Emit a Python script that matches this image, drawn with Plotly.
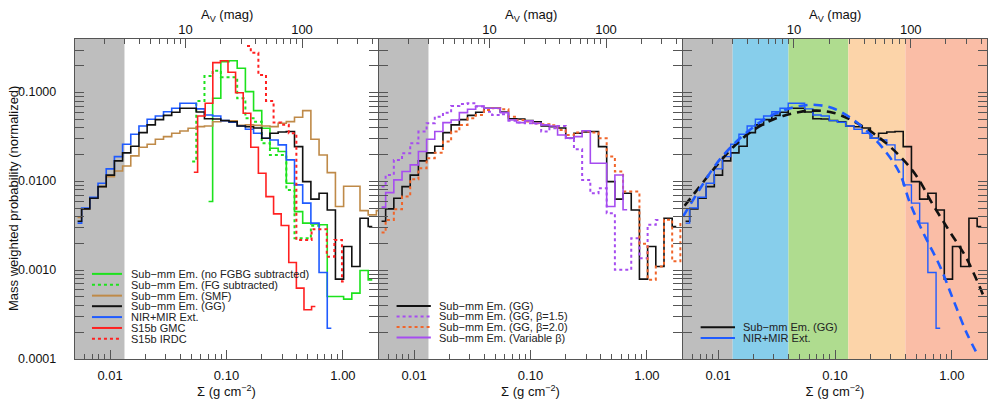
import numpy as np
import plotly.graph_objects as go

# histogram bin centres (g cm^-2) used by the sub-mm emission and extinction maps
SIGMA_BINS = [0.00526, 0.00618, 0.00727, 0.00855, 0.01005, 0.01182, 0.01389,
              0.01633, 0.01920, 0.02258, 0.02655, 0.03121, 0.03670, 0.04314,
              0.05072, 0.05964, 0.07012, 0.08244, 0.09692, 0.1139, 0.1340,
              0.1575, 0.1852, 0.2177, 0.2560, 0.3010, 0.3538, 0.4160, 0.4891,
              0.5751, 0.6761, 0.7950, 0.9346, 1.0988, 1.292, 1.519, 1.786, 2.100]

# mass weighted probability per bin (first value sits in SIGMA_BINS[start])
GG = [0.00355, 0.00490, 0.00646, 0.00871, 0.01175, 0.01698, 0.02089, 0.02483,
      0.03532, 0.04315, 0.04955, 0.05521, 0.05998, 0.06637, 0.06637, 0.06026,
      0.05070, 0.05035, 0.04842, 0.04677, 0.04198, 0.04121, 0.03981, 0.03055,
      0.03475, 0.03589, 0.03631, 0.02460, 0.00993, 0.00630, 0.00735, 0.00476,
      0.000793, 0.001845, 0.001099, 0.003846, 0.003097]
GG_START = 0
NIR_MIR = [0.00338, 0.00501, 0.00662, 0.00951, 0.01380, 0.01897, 0.02612,
           0.03388, 0.04198, 0.04989, 0.05445, 0.06081, 0.06637, 0.07551,
           0.07551, 0.06531, 0.05585, 0.05445, 0.04819, 0.04624, 0.04198,
           0.03855, 0.03475, 0.03055, 0.02924, 0.02570, 0.01742, 0.00912,
           0.00568, 0.00338, 0.000942, 0.000222]
NIR_MIR_START = 0
SMF = [0.00391, 0.00490, 0.00646, 0.00871, 0.01130, 0.01309, 0.01489, 0.01932,
       0.02421, 0.02612, 0.02979, 0.03184, 0.03475, 0.03690, 0.03954, 0.04130,
       0.04188, 0.04677, 0.04786, 0.04786, 0.04266, 0.04315, 0.04266, 0.04198,
       0.04130, 0.04498, 0.04699, 0.05260, 0.06252, 0.02972, 0.01982, 0.01253,
       0.00520, 0.00881, 0.00881, 0.00468, 0.00419, 0.00468]
SMF_START = 0
NO_FGBG = [0.00592, 0.0861, 0.2223, 0.2280, 0.1871, 0.1023, 0.06252, 0.03954,
           0.02355, 0.02163, 0.00951, 0.00456, 0.00338, 0.00331, 0.00324,
           0.000505, 0.000505, 0.000472, 0.000551, 0.000991, 0.000778]
NO_FGBG_START = 16
FG_SUB = [0.01667, 0.0804, 0.1535, 0.1762, 0.1483, 0.1483, 0.0861, 0.0513,
          0.0468, 0.0268, 0.0198, 0.0198, 0.0080, 0.00229, 0.00229, 0.00316,
          0.00316]
FG_SUB_START = 14
BETA_15 = [0.00873, 0.01180, 0.01742, 0.02070, 0.02679, 0.03631, 0.04508,
           0.05346, 0.05929, 0.07047, 0.07430, 0.07551, 0.06934, 0.06081,
           0.05585, 0.05689, 0.04819, 0.04581, 0.04508, 0.04446, 0.03631,
           0.03954, 0.04198, 0.03055, 0.02296, 0.01038, 0.00735, 0.00836,
           0.00437, 0.001009, 0.001009, 0.00229, 0.001365, 0.00324, 0.00368]
BETA_15_START = 0
BETA_20 = [0.00265, 0.00368, 0.00485, 0.00673, 0.01057, 0.01403, 0.01820,
           0.02104, 0.02799, 0.03631, 0.04315, 0.05129, 0.05585, 0.06353,
           0.06637, 0.06457, 0.05346, 0.04898, 0.04721, 0.04508, 0.04385,
           0.04266, 0.03784, 0.03327, 0.03548, 0.03631, 0.03548, 0.03055,
           0.01897, 0.01288, 0.00766, 0.00766, 0.00198, 0.00078, 0.00110,
           0.00370, 0.00126, 0.00330]
BETA_20_START = 0
VAR_BETA = [0.00512, 0.00746, 0.01038, 0.01288, 0.01531, 0.02163, 0.02972,
            0.03631, 0.04581, 0.04909, 0.05929, 0.06471, 0.07047, 0.06637,
            0.06637, 0.05929, 0.04909, 0.04581, 0.04786, 0.04508, 0.04315,
            0.04198, 0.03327, 0.03055, 0.03184, 0.03715, 0.01600, 0.01600,
            0.00520, 0.01180, 0.00479]
VAR_BETA_START = 0

# S15b histograms use their own binning
S15B_BINS = [0.05239, 0.06088, 0.07075, 0.08222, 0.09556, 0.1110, 0.1290,
             0.1500, 0.1742, 0.2025, 0.2353, 0.2735, 0.3178, 0.3693, 0.4292,
             0.4989, 0.5797, 0.6737, 0.7829, 0.9097, 1.0573]
S15B_GMC = [0.01265, 0.05445, 0.07551, 0.2168, 0.2280, 0.1687, 0.0995, 0.0583,
            0.02415, 0.01233, 0.00673, 0.00430, 0.00318, 0.00122, 0.000627,
            0.000358, 0.000390]
S15B_GMC_START = 0
S15B_IRDC = [0.3334, 0.2805, 0.1574, 0.0804, 0.0458, 0.0432, 0.0348, 0.00219,
             0.00219, 0.00289, 0.00289, 0.00142, 0.00219, 0.000745]
S15B_IRDC_START = 7

# log-normal fits
FIT_GG_SIGMA = [0.00516, 0.00695, 0.00964, 0.01340, 0.01862, 0.02582, 0.03589,
                0.04989, 0.06934, 0.09616, 0.1337, 0.1858, 0.2576, 0.3581,
                0.4977, 0.6902, 0.9594, 1.334, 1.928]
FIT_GG_P = [0.00530, 0.00873, 0.01489, 0.02421, 0.03532, 0.04581, 0.05445,
            0.06039, 0.06252, 0.05929, 0.04989, 0.03917, 0.02871, 0.01932,
            0.01151, 0.00543, 0.00272, 0.001365, 0.000463]
FIT_NIR_SIGMA = [0.00500, 0.00695, 0.00964, 0.01340, 0.01862, 0.02582, 0.03589,
                 0.04989, 0.06934, 0.09616, 0.1337, 0.1858, 0.2576, 0.3581,
                 0.4385, 0.5715, 0.7925, 1.030, 1.343, 1.690]
FIT_NIR_P = [0.00401, 0.00815, 0.01570, 0.02570, 0.03784, 0.05129, 0.06252,
             0.07047, 0.07244, 0.06637, 0.05260, 0.03724, 0.02355, 0.01233,
             0.00568, 0.00261, 0.001099, 0.000463, 0.000195, 0.000107]

# shaded Sigma ranges (g cm^-2)
GREY_LIMIT = 0.0133
BAND_EDGES = [0.0133, 0.04, 0.13, 0.4, 3.0]
BAND_COLORS = ["#87ceeb", "#afdc8f", "#fcd4a9", "#fabda6"]

# y tick labels of the left panel
P_TICKS = [1e-4, 1e-3, 1e-2, 1e-1]
P_TICK_TEXT = ["0.0001", "0.0010", "0.0100", "0.1000"]

SIGMA_PER_AV = 0.00445
X_MIN, X_MAX = 0.005, 2.0
Y_MIN, Y_MAX = 1e-4, 0.4

GREEN = "#1de21d"
BROWN = "#bf8a48"
BLACK = "#111111"
BLUE = "#1f5bff"
RED = "#ff2020"
PURPLE = "#a64cf0"
ORANGE = "#f0652a"
FONT = "Liberation Sans, Arial, sans-serif"

fig = go.Figure()
PANELS = [("x", "y"), ("x2", "y2"), ("x3", "y3")]


def add_hist(panel, bins, values, start, color, dash="solid", width=1.6):
    xa, ya = PANELS[panel]
    fig.add_trace(go.Scatter(
        x=bins[start:start + len(values)], y=values, mode="lines",
        line=dict(color=color, dash=dash, width=width, shape="hvh"),
        xaxis=xa, yaxis=ya, showlegend=False, hoverinfo="skip"))


# panel 1
add_hist(0, SIGMA_BINS, NO_FGBG, NO_FGBG_START, GREEN)
add_hist(0, SIGMA_BINS, FG_SUB, FG_SUB_START, GREEN, "dot", 2)
add_hist(0, SIGMA_BINS, SMF, SMF_START, BROWN)
add_hist(0, SIGMA_BINS, NIR_MIR, NIR_MIR_START, BLUE)
add_hist(0, SIGMA_BINS, GG, GG_START, BLACK)
add_hist(0, S15B_BINS, S15B_GMC, S15B_GMC_START, RED)
add_hist(0, S15B_BINS, S15B_IRDC, S15B_IRDC_START, RED, "dot", 2)
# panel 2
add_hist(1, SIGMA_BINS, GG, GG_START, BLACK)
add_hist(1, SIGMA_BINS, BETA_15, BETA_15_START, PURPLE, "dot", 2)
add_hist(1, SIGMA_BINS, BETA_20, BETA_20_START, ORANGE, "dot", 2)
add_hist(1, SIGMA_BINS, VAR_BETA, VAR_BETA_START, PURPLE)
# panel 3
add_hist(2, SIGMA_BINS, GG, GG_START, BLACK)
add_hist(2, SIGMA_BINS, NIR_MIR, NIR_MIR_START, BLUE, width=1.4)
for sx, sy, col in [(FIT_GG_SIGMA, FIT_GG_P, BLACK), (FIT_NIR_SIGMA, FIT_NIR_P, BLUE)]:
    fig.add_trace(go.Scatter(
        x=sx, y=sy, mode="lines", xaxis="x3", yaxis="y3",
        line=dict(color=col, width=2.6, dash="9px,6px", shape="spline"),
        showlegend=False, hoverinfo="skip"))

# empty traces so that the A_V axes get drawn
for k in range(3):
    fig.add_trace(go.Scatter(x=[], y=[], xaxis="x%d" % (k + 4), yaxis=PANELS[k][1],
                             showlegend=False))

# shaded regions
shapes = []
for k in range(3):
    xr = PANELS[k][0]
    yr = PANELS[k][1] + " domain"
    shapes.append(dict(type="rect", xref=xr, yref=yr, x0=0.001, x1=GREY_LIMIT,
                       y0=0, y1=1, fillcolor="#bebebe", line_width=0, layer="below"))
for x0, x1, c in zip(BAND_EDGES[:-1], BAND_EDGES[1:], BAND_COLORS):
    shapes.append(dict(type="rect", xref="x3", yref="y3 domain", x0=x0, x1=x1,
                       y0=0, y1=1, fillcolor=c, line_width=0, layer="below"))

# legends drawn by hand (IDL style, tight rows)
LEGENDS = [
    (0, 0.056, 0.155, 0.182, [0.266, 0.232, 0.198, 0.165, 0.131, 0.097, 0.063],
     [("Sub−mm Em. (no FGBG subtracted)", GREEN, "solid"),
      ("Sub−mm Em. (FG subtracted)", GREEN, "dot"),
      ("Sub−mm Em. (SMF)", BROWN, "solid"),
      ("Sub−mm Em. (GG)", BLACK, "solid"),
      ("NIR+MIR Ext.", BLUE, "solid"),
      ("S15b GMC", RED, "solid"),
      ("S15b IRDC", RED, "dot")]),
    (1, 0.058, 0.171, 0.196, [0.166, 0.133, 0.100, 0.067],
     [("Sub−mm Em. (GG)", BLACK, "solid"),
      ("Sub−mm Em. (GG, β=1.5)", PURPLE, "dot"),
      ("Sub−mm Em. (GG, β=2.0)", ORANGE, "dot"),
      ("Sub−mm Em. (Variable β)", PURPLE, "solid")]),
    (2, 0.058, 0.171, 0.193, [0.099, 0.066],
     [("Sub−mm Em. (GG)", BLACK, "solid"),
      ("NIR+MIR Ext.", BLUE, "solid")]),
]
annotations = []
for k, lx0, lx1, tx, rows, items in LEGENDS:
    xr = PANELS[k][0] + " domain"
    yr = PANELS[k][1] + " domain"
    for yy, (label, col, dash) in zip(rows, items):
        shapes.append(dict(type="line", xref=xr, yref=yr, x0=lx0, x1=lx1, y0=yy, y1=yy,
                           line=dict(color=col, width=2, dash=dash)))
        annotations.append(dict(xref=xr, yref=yr, x=tx, y=yy, text=label, showarrow=False,
                                xanchor="left", yanchor="middle", borderpad=0,
                                font=dict(size=11, color="#222222", family=FONT)))
    # A_V axis title above each panel
    annotations.append(dict(xref=xr, yref="paper", x=0.5, y=1, yshift=24,
                            text="A<sub>V</sub> (mag)", showarrow=False,
                            xanchor="center", yanchor="middle",
                            font=dict(size=13, color="#111111", family=FONT)))

# left axis tick labels and title, placed like the IDL original
for val, txt in zip(P_TICKS, P_TICK_TEXT):
    annotations.append(dict(xref="paper", yref="y", x=0, y=np.log10(val), xshift=-17,
                            text=txt, showarrow=False, xanchor="right", yanchor="middle",
                            font=dict(size=12.5, color="#111111", family=FONT)))
annotations.append(dict(xref="paper", yref="paper", x=0, y=0.5, xshift=-62,
                        text="Mass weighted probability (normalized)", textangle=-90,
                        showarrow=False, xanchor="center", yanchor="middle",
                        font=dict(size=13, color="#111111", family=FONT)))

minor_sigma = [m * 10.0 ** e for e in range(-3, 1) for m in range(2, 10)]
minor_av = [m * 10.0 ** e for e in range(0, 3) for m in range(2, 10)]
minor_p = [m * 10.0 ** e for e in range(-4, 0) for m in range(2, 10)]

W_PLOT = 912.0
domains = [[0, 303 / W_PLOT], [304 / W_PLOT, 607 / W_PLOT], [608 / W_PLOT, 1]]
layout = dict(
    width=997, height=399,
    margin=dict(l=75, r=10, t=39, b=40, autoexpand=False),
    paper_bgcolor="white", plot_bgcolor="white",
    font=dict(family=FONT, size=13, color="#111111"),
    shapes=shapes, annotations=annotations, showlegend=False,
)
axis_line = dict(showline=True, linecolor="#555555", linewidth=1.2, showgrid=False,
                 zeroline=False, tickcolor="#555555", automargin=False)
for k in range(3):
    sfx = "" if k == 0 else str(k + 1)
    layout["xaxis" + sfx] = dict(
        axis_line, domain=domains[k], anchor="y" + sfx, type="log",
        range=[np.log10(X_MIN), np.log10(X_MAX)],
        tickvals=[0.01, 0.1, 1.0], ticktext=["0.01", "0.10", "1.00"],
        ticks="inside", ticklen=9, mirror=True, ticklabelstandoff=4,
        minor=dict(tickvals=minor_sigma, ticks="inside", ticklen=5, tickcolor="#555555"),
        title=dict(text="Σ (g cm<sup>−2</sup>)", standoff=1, font=dict(size=13)))
    layout["xaxis" + str(k + 4)] = dict(
        showgrid=False, zeroline=False, showline=False, tickcolor="#555555",
        automargin=False,
        overlaying="x" + sfx, side="top", anchor="y" + sfx, type="log",
        range=[np.log10(X_MIN / SIGMA_PER_AV), np.log10(X_MAX / SIGMA_PER_AV)],
        tickvals=[10, 100], ticktext=["10", "100"], ticks="inside", ticklen=9,
        ticklabelstandoff=1,
        minor=dict(tickvals=minor_av, ticks="inside", ticklen=5, tickcolor="#555555"))
    layout["yaxis" + sfx] = dict(
        axis_line, domain=[0, 1], anchor="x" + sfx, type="log",
        range=[np.log10(Y_MIN), np.log10(Y_MAX)],
        tickvals=P_TICKS, showticklabels=False,
        ticks="inside", ticklen=9, mirror="allticks",
        minor=dict(tickvals=minor_p, ticks="inside", ticklen=5, tickcolor="#555555"))
fig.update_layout(**layout)

# the page's default 8px body margin would shift the figure
fig.write_html("out.html", config={"displayModeBar": False},
               post_script="document.body.style.margin='0px';")
